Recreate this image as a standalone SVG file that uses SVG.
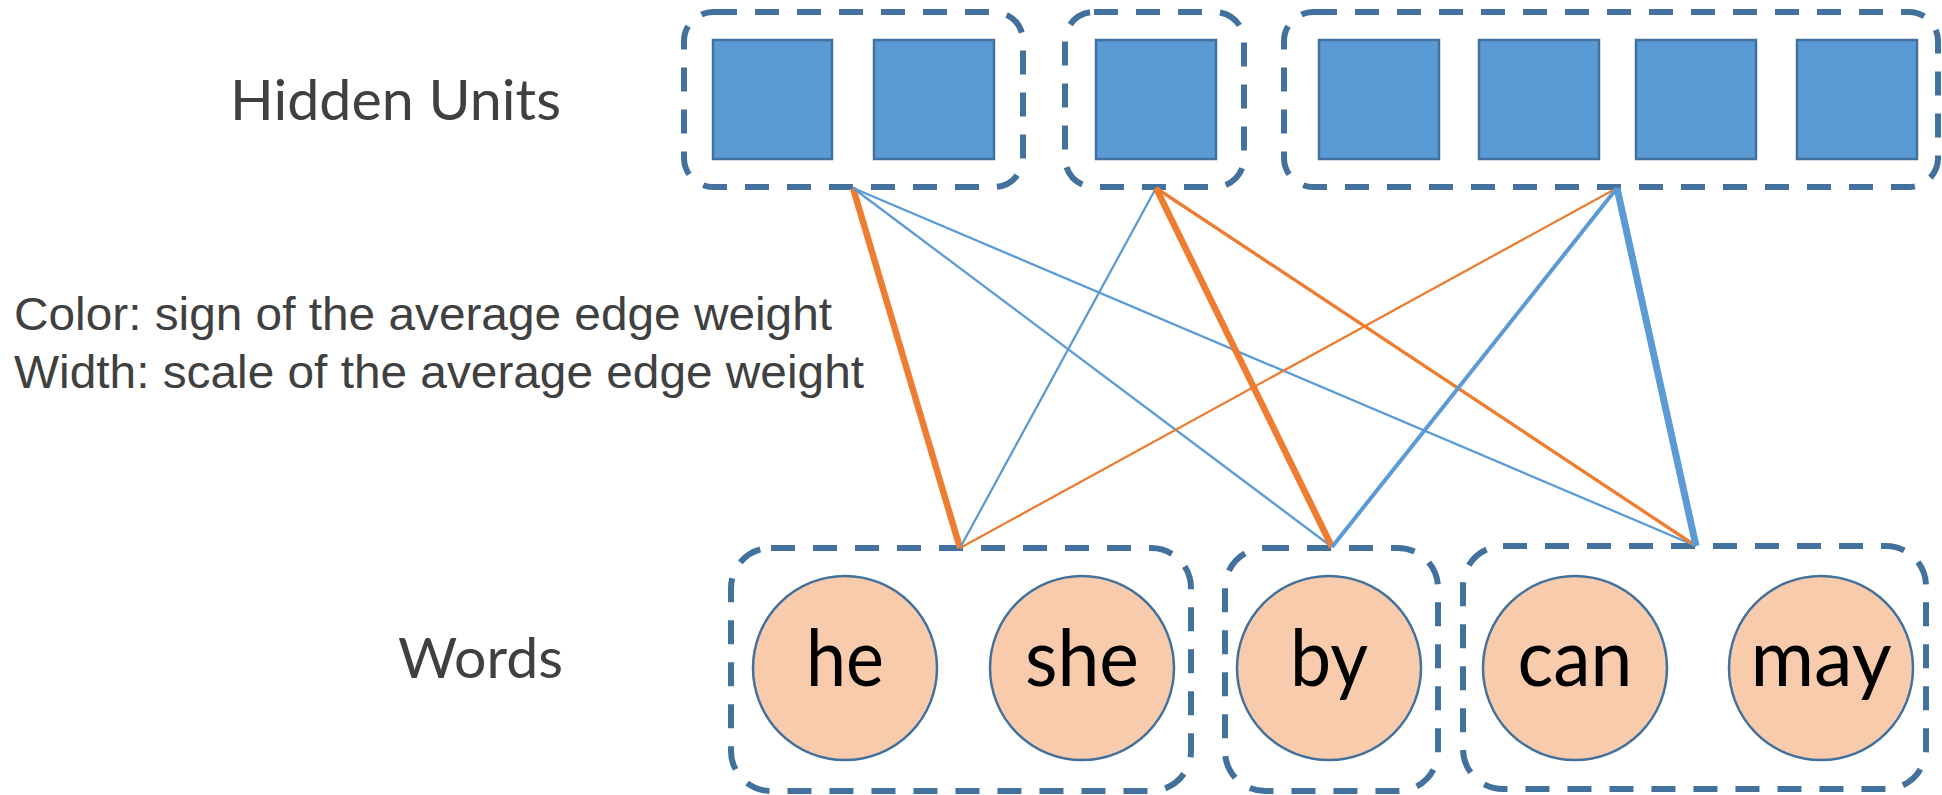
<svg xmlns="http://www.w3.org/2000/svg" width="1942" height="795" viewBox="0 0 1942 795">
  <style>
    .group { fill: none; stroke: #41719C; stroke-width: 6; stroke-dasharray: 24 18; }
    .unit { fill: #5B9BD5; stroke: #41719C; stroke-width: 2.5; }
    .word { fill: #F8CBAD; stroke: #41719C; stroke-width: 2.5; }
    .wlabel { font-family: Lato, "Open Sans", sans-serif; font-size: 80px; fill: #000000; text-anchor: middle; }
    .rowlabel { font-family: Lato, "Open Sans", sans-serif; font-size: 56px; fill: #404040; }
    .legend { font-family: "Liberation Sans", Arial, sans-serif; font-size: 47px; fill: #404040; }
    .pos { stroke: #ED7D31; fill: none; }
    .neg { stroke: #5B9BD5; fill: none; }
  </style>

  <rect width="1942" height="795" fill="#FFFFFF"/>

  <!-- row labels and legend -->
  <text class="rowlabel" x="230" y="120" textLength="331" lengthAdjust="spacingAndGlyphs">Hidden Units</text>
  <text class="rowlabel" x="398" y="678" textLength="165" lengthAdjust="spacingAndGlyphs">Words</text>
  <text class="legend" x="14" y="330" textLength="818" lengthAdjust="spacingAndGlyphs">Color: sign of the average edge weight</text>
  <text class="legend" x="14" y="388" textLength="850" lengthAdjust="spacingAndGlyphs">Width: scale of the average edge weight</text>

  <!-- hidden unit clusters -->
  <g id="hidden-cluster-1">
    <rect class="group" x="684" y="12" width="339" height="175" rx="29" ry="29"/>
    <rect class="unit" x="713" y="40" width="119" height="119"/>
    <rect class="unit" x="874" y="40" width="120" height="119"/>
  </g>
  <g id="hidden-cluster-2">
    <rect class="group" x="1065" y="12" width="179" height="175" rx="29" ry="29"/>
    <rect class="unit" x="1096" y="40" width="120" height="119"/>
  </g>
  <g id="hidden-cluster-3">
    <rect class="group" x="1284" y="12" width="654" height="175" rx="29" ry="29"/>
    <rect class="unit" x="1319" y="40" width="120" height="119"/>
    <rect class="unit" x="1479" y="40" width="120" height="119"/>
    <rect class="unit" x="1636" y="40" width="120" height="119"/>
    <rect class="unit" x="1797" y="40" width="120" height="119"/>
  </g>

  <!-- word clusters -->
  <g id="word-cluster-1">
    <rect class="group" x="731" y="548" width="460" height="243" rx="40" ry="40"/>
    <circle class="word" cx="845" cy="668" r="92"/>
    <text class="wlabel" x="845" y="686" textLength="78" lengthAdjust="spacingAndGlyphs">he</text>
    <circle class="word" cx="1082" cy="668" r="92"/>
    <text class="wlabel" x="1082" y="686" textLength="114" lengthAdjust="spacingAndGlyphs">she</text>
  </g>
  <g id="word-cluster-2">
    <rect class="group" x="1225" y="548" width="213" height="243" rx="40" ry="40"/>
    <circle class="word" cx="1329" cy="668" r="92"/>
    <text class="wlabel" x="1329" y="686" textLength="78" lengthAdjust="spacingAndGlyphs">by</text>
  </g>
  <g id="word-cluster-3">
    <rect class="group" x="1463" y="546" width="463" height="243" rx="40" ry="40"/>
    <circle class="word" cx="1575" cy="668" r="92"/>
    <text class="wlabel" x="1575" y="686" textLength="115" lengthAdjust="spacingAndGlyphs">can</text>
    <circle class="word" cx="1821" cy="668" r="92"/>
    <text class="wlabel" x="1821" y="686" textLength="141" lengthAdjust="spacingAndGlyphs">may</text>
  </g>

  <!-- cluster-to-cluster edges: orange = positive, blue = negative, width = magnitude -->
  <g id="connectors">
    <line class="pos" x1="853" y1="188" x2="960" y2="548" stroke-width="6.5"/>
    <line class="neg" x1="853" y1="188" x2="1332" y2="547" stroke-width="2.3"/>
    <line class="neg" x1="853" y1="188" x2="1696" y2="546" stroke-width="2.3"/>
    <line class="neg" x1="1156" y1="188" x2="960" y2="548" stroke-width="2.3"/>
    <line class="pos" x1="1156" y1="188" x2="1332" y2="547" stroke-width="6.5"/>
    <line class="pos" x1="1156" y1="188" x2="1696" y2="546" stroke-width="3.3"/>
    <line class="pos" x1="1617" y1="188" x2="960" y2="548" stroke-width="2.3"/>
    <line class="neg" x1="1617" y1="188" x2="1332" y2="547" stroke-width="4"/>
    <line class="neg" x1="1617" y1="188" x2="1696" y2="546" stroke-width="7"/>
  </g>
</svg>
